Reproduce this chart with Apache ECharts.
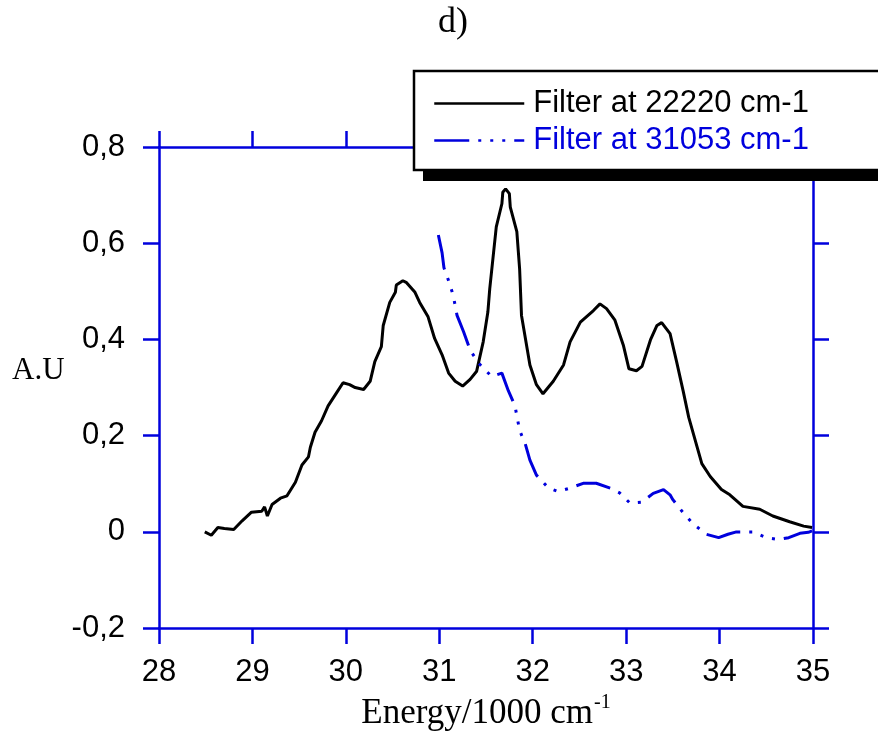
<!DOCTYPE html>
<html>
<head>
<meta charset="utf-8">
<script src="https://cdn.jsdelivr.net/npm/echarts@6/dist/echarts.min.js"></script>
<style>html,body{margin:0;padding:0;background:#fff}#c{width:878px;height:736px}</style>
</head>
<body>
<div id="c"></div>
<script>
// Energy (1000 cm-1) and intensity (A.U) for filter at 22220 cm-1
const blackX = [28.49,28.56,28.63,28.70,28.80,28.89,28.99,29.10,29.13,29.16,29.21,29.30,29.37,29.46,29.53,29.60,29.62,29.67,29.74,29.81,29.90,29.97,30.04,30.10,30.12,30.19,30.26,30.31,30.38,30.40,30.47,30.53,30.54,30.61,30.65,30.74,30.79,30.88,30.95,31.03,31.10,31.17,31.25,31.33,31.40,31.47,31.52,31.54,31.61,31.67,31.68,31.71,31.75,31.76,31.83,31.86,31.88,31.97,32.04,32.11,32.22,32.33,32.40,32.51,32.65,32.72,32.79,32.88,32.97,33.03,33.11,33.17,33.26,33.33,33.38,33.47,33.54,33.61,33.67,33.76,33.81,33.90,34.02,34.11,34.25,34.43,34.57,34.75,34.90,34.99];
const blackY = [0.000,-0.007,0.009,0.007,0.005,0.023,0.041,0.043,0.052,0.033,0.057,0.070,0.075,0.103,0.139,0.156,0.176,0.207,0.231,0.262,0.289,0.310,0.306,0.300,0.296,0.296,0.313,0.354,0.385,0.429,0.477,0.498,0.513,0.522,0.518,0.498,0.477,0.447,0.402,0.368,0.330,0.313,0.303,0.317,0.334,0.395,0.457,0.505,0.634,0.682,0.706,0.713,0.703,0.675,0.624,0.546,0.450,0.347,0.306,0.287,0.313,0.347,0.395,0.436,0.460,0.474,0.464,0.440,0.388,0.339,0.335,0.344,0.399,0.429,0.435,0.412,0.354,0.293,0.238,0.176,0.142,0.115,0.088,0.077,0.053,0.047,0.033,0.021,0.012,0.009];
// Filter at 31053 cm-1
const blueX = [30.99,31.03,31.05,31.10,31.15,31.19,31.26,31.33,31.42,31.56,31.67,31.74,31.81,31.86,31.92,31.97,32.04,32.17,32.27,32.40,32.54,32.68,32.83,32.93,33.04,33.17,33.29,33.40,33.47,33.50,33.61,33.72,33.86,33.99,34.09,34.18,34.36,34.50,34.63,34.74,34.86,34.95,34.99];
const blueY = [0.617,0.580,0.549,0.522,0.491,0.450,0.416,0.378,0.351,0.323,0.330,0.293,0.262,0.211,0.183,0.149,0.118,0.091,0.084,0.091,0.101,0.101,0.091,0.081,0.060,0.062,0.080,0.088,0.077,0.067,0.040,0.016,-0.005,-0.012,-0.005,0.000,0.000,-0.012,-0.016,-0.012,-0.003,-0.001,0.002];
const seriesNames = ['Filter at 22220 cm-1','Filter at 31053 cm-1'];
const xTicks = [28,35,1];
const yTicks = [-0.2,0.8,0.2];

const BLUE = '#0000dd';
const SANS = 'Liberation Sans, Arial, sans-serif';
const SERIF = 'Liberation Serif, Times New Roman, serif';
const DASH = [35, 9, 3, 9, 3, 9, 3, 9];
const zip = (xs, ys) => xs.map((x, i) => [x, ys[i]]);
const axisLine = {show: true, onZero: false, lineStyle: {color: BLUE, width: 2.5}};
const axisTick = {show: true, inside: false, length: 16, lineStyle: {color: BLUE, width: 2.5}};
const yFmt = v => Math.abs(v) < 1e-9 ? '0' : v.toFixed(1).replace('.', ',');

const chart = echarts.init(document.getElementById('c'), null, {renderer: 'canvas'});
chart.setOption({
  animation: false,
  backgroundColor: '#fff',
  grid: {left: 159, right: 65, top: 147, bottom: 102, containLabel: false},
  xAxis: [
    {type: 'value', position: 'bottom', min: xTicks[0], max: xTicks[1], interval: xTicks[2],
     axisLine, axisTick, splitLine: {show: false},
     axisLabel: {margin: 29, color: '#000', fontSize: 31, fontFamily: SANS},
     name: '{a|Energy/1000 cm}{b|-1}', nameLocation: 'middle', nameGap: 55,
     nameTextStyle: {rich: {
       a: {fontSize: 35, fontFamily: SERIF, color: '#000', lineHeight: 38, verticalAlign: 'bottom'},
       b: {fontSize: 20, fontFamily: SERIF, color: '#000', lineHeight: 38, verticalAlign: 'top', padding: [0,0,0,1]}
     }}},
    {type: 'value', position: 'top', min: xTicks[0], max: xTicks[1], interval: xTicks[2],
     axisLine, axisTick, splitLine: {show: false}, axisLabel: {show: false}}
  ],
  yAxis: [
    {type: 'value', position: 'left', min: yTicks[0], max: yTicks[1], interval: yTicks[2],
     axisLine, axisTick, splitLine: {show: false},
     axisLabel: {margin: 34, color: '#000', fontSize: 31, fontFamily: SANS, formatter: yFmt}},
    {type: 'value', position: 'right', min: yTicks[0], max: yTicks[1], interval: yTicks[2],
     axisLine, axisTick, splitLine: {show: false}, axisLabel: {show: false}}
  ],
  legend: {
    orient: 'vertical', left: 414, top: 71,
    padding: [17, 110, 17, 19], itemGap: 6, itemWidth: 90, itemHeight: 30,
    backgroundColor: 'transparent', borderWidth: 0,
    itemStyle: {color: 'transparent', borderWidth: 0, opacity: 0},
    textStyle: {fontSize: 31, fontFamily: SANS, padding: [0, 0, 0, 4]},
    data: [
      {name: seriesNames[0], textStyle: {color: '#000'},
       lineStyle: {type: 'solid', width: 2.5, color: '#000'}},
      {name: seriesNames[1], textStyle: {color: BLUE},
       lineStyle: {type: DASH, width: 2.5, color: BLUE}}
    ],
    z: 60
  },
  graphic: [
    {type: 'rect', z: 50, shape: {x: 423, y: 81, width: 520, height: 100}, style: {fill: '#000'}},
    {type: 'rect', z: 51, shape: {x: 414, y: 71, width: 520, height: 99}, style: {fill: '#fff', stroke: '#000', lineWidth: 2.5}},
    {type: 'text', left: 438, top: 5, style: {text: 'd)', font: '36px ' + SERIF, fill: '#000'}},
    {type: 'text', left: 12, top: 355, style: {text: 'A.U', font: '31px ' + SERIF, fill: '#000'}}
  ],
  series: [
    {name: seriesNames[0], type: 'line', data: zip(blackX, blackY), showSymbol: false, symbol: 'none',
     lineStyle: {color: '#000', width: 3}, itemStyle: {color: '#000'}, z: 3},
    {name: seriesNames[1], type: 'line', data: zip(blueX, blueY), showSymbol: false, symbol: 'none',
     lineStyle: {color: BLUE, width: 3, type: DASH}, itemStyle: {color: BLUE}, z: 3}
  ]
});
</script>
</body>
</html>
